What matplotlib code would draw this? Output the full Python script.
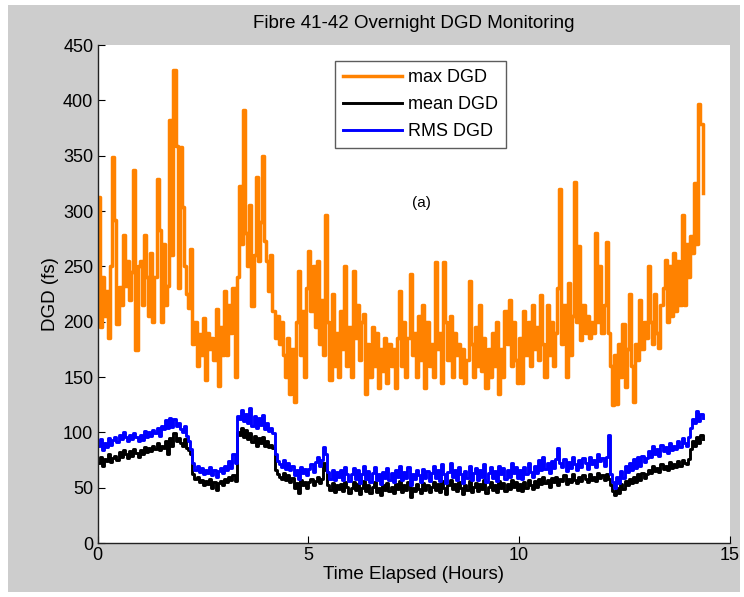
import numpy as np
import matplotlib
matplotlib.use("Agg")
import matplotlib.pyplot as plt
from matplotlib.patches import Rectangle

# samples every 3 minutes (0.05 h)
sample_step = 0.05

max_dgd = [
    313, 195, 240, 205, 228, 185, 250, 349, 292, 198, 231, 215, 278, 232, 255, 220, 245, 337, 174, 250,
    255, 215, 278, 240, 205, 262, 200, 240, 329, 283, 200, 270, 215, 232, 382, 260, 427, 359, 230, 358,
    304, 250, 225, 212, 266, 180, 200, 160, 189, 170, 203, 147, 190, 175, 185, 165, 211, 142, 195, 170,
    228, 170, 215, 190, 230, 150, 240, 323, 270, 391, 280, 250, 305, 214, 260, 331, 255, 290, 350, 273,
    255, 228, 260, 210, 185, 205, 180, 200, 170, 150, 185, 135, 175, 127, 200, 246, 170, 210, 150, 230,
    264, 210, 250, 195, 255, 180, 220, 170, 296, 200, 147, 225, 160, 190, 150, 210, 175, 250, 160, 195,
    150, 246, 185, 215, 165, 200, 207, 135, 180, 150, 195, 160, 190, 140, 175, 155, 185, 145, 180, 160,
    175, 140, 185, 228, 160, 200, 150, 185, 243, 170, 190, 150, 205, 165, 215, 140, 200, 160, 180, 150,
    254, 175, 190, 145, 254, 200, 165, 205, 150, 190, 170, 180, 150, 175, 145, 165, 237, 180, 150, 195,
    160, 215, 155, 185, 140, 175, 150, 190, 160, 200, 135, 175, 150, 210, 180, 220, 160, 200, 165, 145,
    185, 145, 210, 170, 200, 160, 215, 175, 195, 165, 224, 180, 150, 215, 170, 200, 160, 190, 230, 320,
    180, 215, 150, 235, 170, 205, 326, 200, 268, 183, 215, 190, 205, 185, 200, 190, 280, 200, 250, 190,
    215, 272, 190, 160, 125, 170, 126, 180, 150, 198, 141, 175, 225, 160, 127, 180, 165, 220, 175, 200,
    185, 250, 200, 180, 225, 190, 176, 215, 230, 256, 200, 250, 205, 262, 210, 255, 215, 296, 215, 270,
    240, 277, 262, 325, 270, 397, 379, 316,
]

mean_dgd = [
    72, 78, 70, 76, 74, 80, 73, 77, 79, 75, 82, 78, 84, 80, 77, 83, 79, 85, 81, 78,
    84, 80, 87, 82, 86, 83, 88, 85, 90, 84, 88, 86, 92, 80, 95, 88, 99, 92, 95, 90,
    88, 94, 86, 84, 80, 62, 58, 60, 55, 57, 52, 56, 53, 58, 50, 55, 48, 54, 56, 52,
    58, 55, 60, 57, 61, 56, 100, 98, 104, 96, 102, 94, 99, 91, 97, 88, 95, 90, 96, 88,
    92, 87, 89, 86, 66, 62, 60, 58, 63, 57, 61, 55, 59, 50, 54, 45, 57, 52, 55, 50,
    55, 58, 52, 56, 60, 54, 58, 72, 66, 52, 48, 54, 46, 52, 49, 53, 47, 55, 51, 45,
    50, 55, 48, 53, 44, 50, 56, 47, 52, 45, 51, 55, 46, 50, 43, 52, 48, 54, 47, 51,
    45, 53, 49, 56, 46, 52, 48, 55, 42, 50, 47, 53, 49, 45, 54, 48, 52, 46, 51, 55,
    48, 53, 46, 56, 50, 44, 52, 57, 49, 53, 47, 55, 50, 44, 52, 48, 56, 46, 51, 54,
    47, 53, 49, 57, 45, 51, 55, 48, 52, 46, 56, 50, 54, 47, 53, 49, 57, 51, 55, 48,
    53, 47, 55, 50, 57, 52, 49, 56, 51, 58, 53, 60, 54, 57, 51, 59, 55, 60, 52, 58,
    56, 61, 53, 58, 55, 62, 57, 54, 60, 56, 61, 58, 55, 62, 57, 60, 56, 63, 59, 61,
    57, 62, 58, 52, 47, 43, 50, 45, 53, 49, 56, 52, 58, 54, 60, 55, 62, 57, 63, 59,
    62, 66, 63, 70, 65, 68, 64, 71, 67, 70, 66, 73, 68, 71, 69, 74, 70, 75, 72, 71,
    76, 85, 92, 88, 96, 90, 98, 94,
]

rms_dgd = [
    88, 94, 84, 90, 87, 95, 89, 93, 96, 91, 98, 94, 100, 96, 92, 98, 94, 99, 96, 92,
    98, 93, 101, 96, 100, 97, 102, 99, 104, 97, 106, 103, 111, 104, 113, 105, 112, 106, 108, 103,
    100, 106, 97, 92, 85, 72, 66, 70, 64, 68, 62, 66, 63, 69, 61, 66, 60, 65, 68, 63,
    70, 66, 74, 68, 80, 72, 115, 112, 120, 110, 117, 108, 122, 106, 115, 104, 113, 107, 116, 103,
    108, 101, 104, 99, 80, 74, 71, 69, 75, 67, 72, 66, 70, 61, 66, 58, 69, 63, 67, 61,
    67, 71, 64, 73, 78, 70, 75, 87, 80, 64, 58, 66, 57, 64, 60, 66, 57, 69, 62, 56,
    62, 68, 58, 66, 54, 62, 70, 58, 65, 55, 63, 69, 57, 62, 53, 64, 59, 68, 57, 63,
    55, 66, 60, 70, 57, 64, 59, 69, 52, 62, 58, 66, 61, 55, 67, 59, 65, 56, 63, 70,
    59, 66, 56, 71, 62, 54, 64, 72, 60, 66, 57, 69, 62, 54, 65, 59, 70, 57, 63, 68,
    57, 66, 60, 71, 55, 63, 69, 59, 65, 56, 70, 62, 68, 58, 66, 60, 72, 63, 69, 59,
    66, 58, 69, 62, 72, 64, 60, 70, 63, 75, 66, 78, 67, 72, 63, 74, 68, 76, 86, 72,
    69, 76, 65, 73, 68, 78, 71, 66, 75, 69, 77, 72, 67, 78, 71, 75, 69, 80, 74, 77,
    70, 78, 98, 62, 55, 50, 60, 54, 65, 59, 70, 64, 72, 66, 76, 68, 78, 70, 79, 73,
    77, 83, 78, 88, 80, 85, 79, 89, 83, 87, 81, 90, 84, 88, 85, 92, 87, 95, 90, 88,
    96, 104, 112, 108, 119, 110, 117, 113,
]

x_ticks = [0, 5, 10, 15]
y_ticks = [0, 50, 100, 150, 200, 250, 300, 350, 400, 450]

hours = np.arange(len(max_dgd)) * sample_step

plt.rcParams['font.family'] = ['Liberation Sans', 'DejaVu Sans']

fig = plt.figure(figsize=(7.44, 5.97), dpi=100, facecolor='white')
# grey MATLAB-style figure panel
fig.patches.append(Rectangle((8 / 744, 5 / 597), 732 / 744, 587 / 597,
                             transform=fig.transFigure, facecolor='#cdcdcd',
                             edgecolor='none', zorder=-10))

ax = fig.add_axes([97.5 / 744, 1 - 543 / 597, (730 - 97.5) / 744, (543 - 45) / 597])
ax.set_facecolor('white')

ax.plot(hours, max_dgd, color='#ff8200', lw=2.5, drawstyle='steps-post', label='max DGD')
ax.plot(hours, mean_dgd, color='black', lw=2.1, drawstyle='steps-post', label='mean DGD')
ax.plot(hours, rms_dgd, color='#0000ff', lw=2.1, drawstyle='steps-post', label='RMS DGD')

ax.set_xlim(0, 15)
ax.set_ylim(0, 450)
ax.set_xticks(x_ticks)
ax.set_yticks(y_ticks)
ax.tick_params(direction='in', length=5, width=0.8, labelsize=13, pad=3)
for side in ['top', 'right']:
    ax.spines[side].set_visible(False)
for side in ['left', 'bottom']:
    ax.spines[side].set_linewidth(1.0)
    ax.spines[side].set_color('#222222')

ax.set_title('Fibre 41-42 Overnight DGD Monitoring', fontsize=13.5, pad=12)
ax.set_xlabel('Time Elapsed (Hours)', fontsize=13.5, labelpad=1)
ax.set_ylabel('DGD (fs)', fontsize=13.5, labelpad=3)

ax.text(7.69, 307, '(a)', fontsize=11, ha='center', va='center')

leg = ax.legend(loc='upper left', bbox_to_anchor=(0.375, 0.968), frameon=True,
                fancybox=False, shadow=False, handlelength=3.3, handletextpad=0.3,
                borderpad=0.45, labelspacing=0.55, borderaxespad=0,
                prop={'size': 13})
leg.get_frame().set_edgecolor('#333333')
leg.get_frame().set_linewidth(1.0)

fig.savefig('out.png', dpi=100, facecolor=fig.get_facecolor())
